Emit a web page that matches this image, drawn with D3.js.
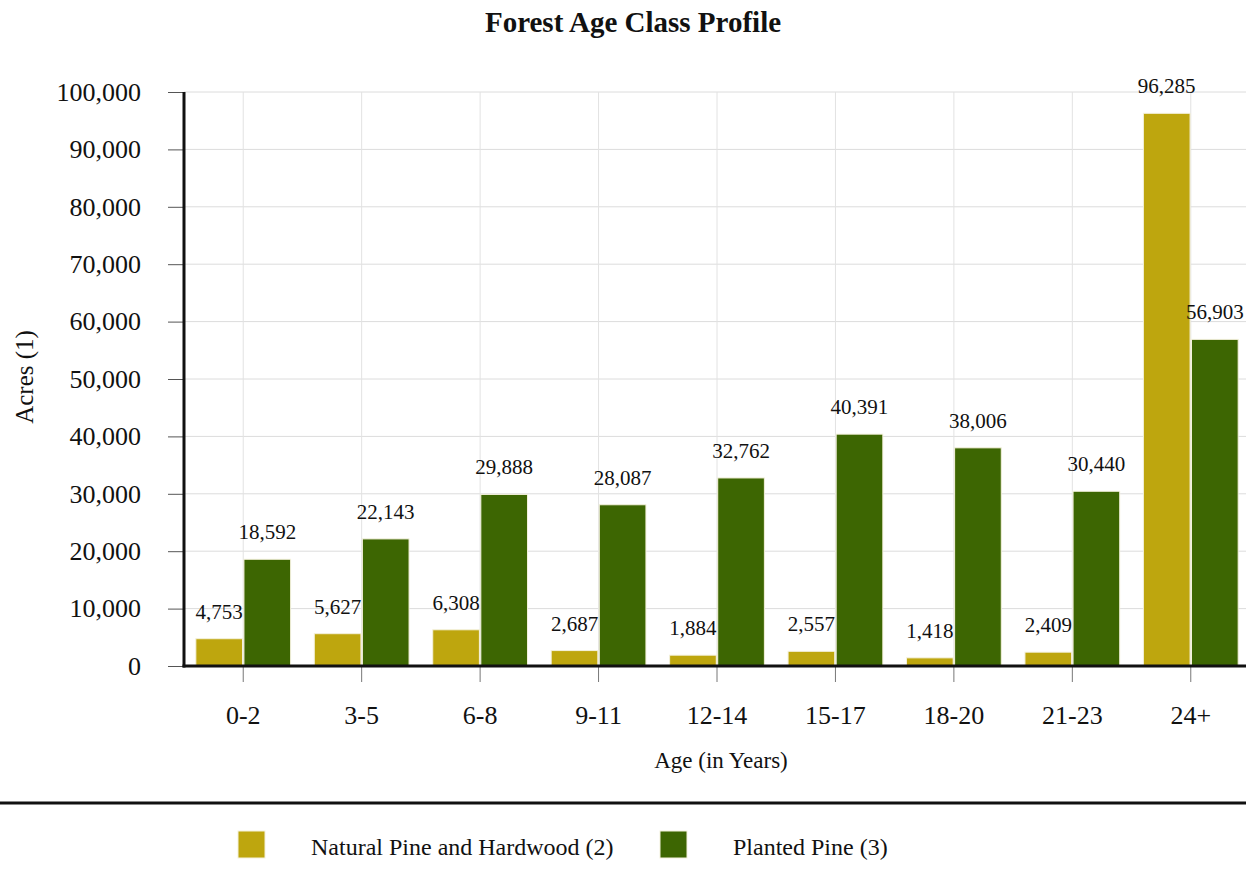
<!DOCTYPE html>
<html>
<style>
body { margin: 0; background: #fff; }
svg { display: block; overflow: hidden; }
text { font-family: "Liberation Serif", "Times New Roman", serif; fill: #111; }
</style>
<body>
<script src="https://d3js.org/d3.v7.min.js"></script>
<script>
var ageClasses = ["0-2", "3-5", "6-8", "9-11", "12-14", "15-17", "18-20", "21-23", "24+"];
var seriesNames = ["Natural Pine and Hardwood (2)", "Planted Pine (3)"];
var naturalPine = [4753, 5627, 6308, 2687, 1884, 2557, 1418, 2409, 96285];
var plantedPine = [18592, 22143, 29888, 28087, 32762, 40391, 38006, 30440, 56903];
var yTicks = [0, 10000, 20000, 30000, 40000, 50000, 60000, 70000, 80000, 90000, 100000];
var colors = ["#bea60e", "#3d6602"];

var width = 1246, height = 891;
var plotLeft = 184, plotRight = 1250, plotTop = 92, plotBottom = 666;

var svg = d3.select("body")
  .append("svg")
  .attr("width", width)
  .attr("height", height);

var x0 = d3.scaleBand()
  .domain(ageClasses)
  .range([plotLeft, plotRight])
  .paddingInner(0.2)
  .paddingOuter(0.1);

var x1 = d3.scaleBand()
  .domain([0, 1])
  .range([0, x0.bandwidth()])
  .paddingInner(0.03);

var y = d3.scaleLinear()
  .domain([0, 100000])
  .range([plotBottom, plotTop]);

var fmt = d3.format(",");

// gridlines
svg.append("g")
  .selectAll("line")
  .data(yTicks)
  .join("line")
  .attr("x1", plotLeft)
  .attr("x2", plotRight)
  .attr("y1", function(d) { return y(d); })
  .attr("y2", function(d) { return y(d); })
  .attr("stroke", "#dcdcdc")
  .attr("stroke-width", 1);

svg.append("g")
  .selectAll("line")
  .data(ageClasses)
  .join("line")
  .attr("x1", function(d) { return x0(d) + x0.bandwidth() / 2; })
  .attr("x2", function(d) { return x0(d) + x0.bandwidth() / 2; })
  .attr("y1", plotTop)
  .attr("y2", plotBottom)
  .attr("stroke", "#e2e2e2")
  .attr("stroke-width", 1);

// bars
var rows = ageClasses.map(function(c, i) {
  return { cat: c, vals: [naturalPine[i], plantedPine[i]] };
});

var groups = svg.append("g")
  .selectAll("g")
  .data(rows)
  .join("g")
  .attr("transform", function(d) { return "translate(" + x0(d.cat) + ",0)"; });

groups.selectAll("rect")
  .data(function(d) { return d.vals.map(function(v, k) { return { k: k, v: v }; }); })
  .join("rect")
  .attr("x", function(d) { return x1(d.k); })
  .attr("width", x1.bandwidth())
  .attr("y", function(d) { return y(d.v); })
  .attr("height", function(d) { return plotBottom - y(d.v); })
  .attr("fill", function(d) { return colors[d.k]; })
  .attr("stroke", "#f4f1dc")
  .attr("stroke-width", 1);

groups.selectAll("text")
  .data(function(d) { return d.vals.map(function(v, k) { return { k: k, v: v }; }); })
  .join("text")
  .attr("x", function(d) { return x1(d.k) + x1.bandwidth() / 2; })
  .attr("y", function(d) { return y(d.v) - 20; })
  .attr("text-anchor", "middle")
  .style("font-size", "21px")
  .text(function(d) { return fmt(d.v); });

// y axis
var yAxis = svg.append("g")
  .attr("transform", "translate(" + plotLeft + ",0)")
  .call(d3.axisLeft(y).tickValues(yTicks).tickFormat(fmt).tickSize(16).tickPadding(27));
yAxis.select(".domain").remove();
yAxis.selectAll(".tick line").attr("stroke", "#555");
yAxis.selectAll(".tick text").style("font-size", "26px").attr("fill", "#111")
  .attr("font-family", null);

svg.append("line")
  .attr("x1", plotLeft).attr("x2", plotLeft)
  .attr("y1", plotTop).attr("y2", plotBottom + 1.5)
  .attr("stroke", "#111").attr("stroke-width", 3);

// x axis
var xAxis = svg.append("g")
  .attr("transform", "translate(0," + plotBottom + ")")
  .call(d3.axisBottom(x0).tickSize(16).tickPadding(24));
xAxis.select(".domain").remove();
xAxis.selectAll(".tick line").attr("stroke", "#777");
xAxis.selectAll(".tick text").style("font-size", "26px").attr("fill", "#111")
  .attr("font-family", null);

svg.append("line")
  .attr("x1", plotLeft - 1.5).attr("x2", plotRight)
  .attr("y1", plotBottom).attr("y2", plotBottom)
  .attr("stroke", "#111").attr("stroke-width", 3);

// titles
svg.append("text")
  .attr("x", 633)
  .attr("y", 32)
  .attr("text-anchor", "middle")
  .style("font-size", "29px")
  .style("font-weight", "bold")
  .text("Forest Age Class Profile");

svg.append("text")
  .attr("x", 721)
  .attr("y", 768)
  .attr("text-anchor", "middle")
  .style("font-size", "23px")
  .text("Age (in Years)");

svg.append("text")
  .attr("transform", "translate(33,377) rotate(-90)")
  .attr("text-anchor", "middle")
  .style("font-size", "25px")
  .text("Acres (1)");

// separator
svg.append("line")
  .attr("x1", 0).attr("x2", width)
  .attr("y1", 803).attr("y2", 803)
  .attr("stroke", "#111").attr("stroke-width", 3);

// legend
var legendX = [238, 660];
var legend = svg.append("g")
  .selectAll("g")
  .data(seriesNames)
  .join("g")
  .attr("transform", function(d, i) { return "translate(" + legendX[i] + ",831)"; });

legend.append("rect")
  .attr("width", 27)
  .attr("height", 27)
  .attr("fill", function(d, i) { return colors[i]; })
  .attr("stroke", "#f4f1dc")
  .attr("stroke-width", 1);

legend.append("text")
  .attr("x", 73)
  .attr("y", 24)
  .style("font-size", "24px")
  .text(function(d) { return d; });
</script>
</body>
</html>
